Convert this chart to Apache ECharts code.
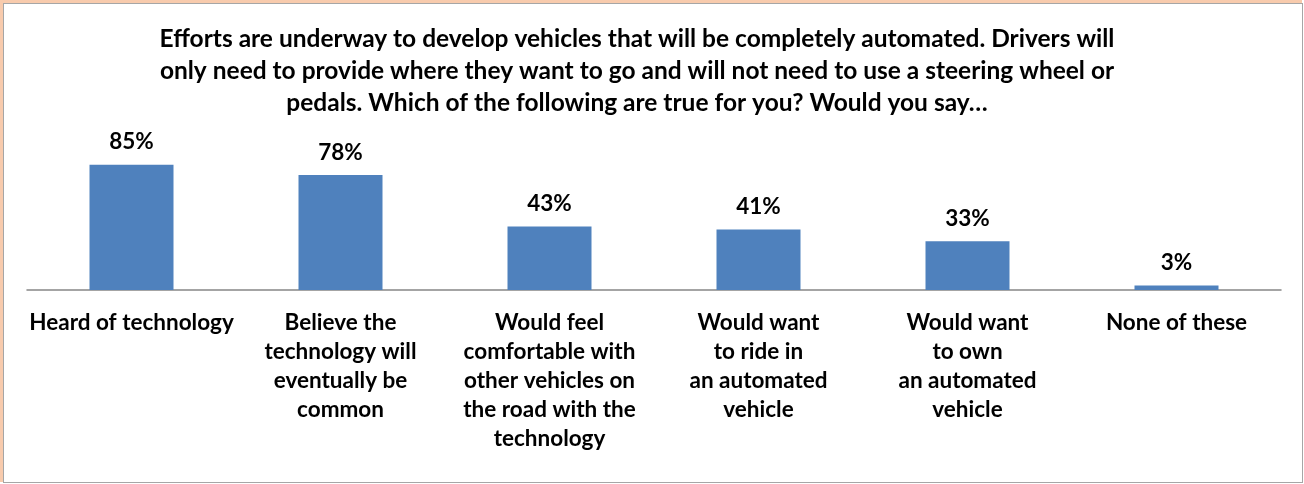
<!DOCTYPE html>
<html><head><meta charset="utf-8">
<script src="https://cdn.jsdelivr.net/npm/echarts@6/dist/echarts.min.js"></script>
<style>
html,body{margin:0;padding:0;background:#fff;}
#frame{position:absolute;left:0;top:0;width:1302px;height:482px;background:#F8CBAD;}
#chart{position:absolute;left:3px;top:3px;width:1298px;height:478px;border:1px solid #A6A6A6;background:#fff;}
</style></head>
<body>
<div id="frame"></div>
<div id="chart"></div>
<script>
const titleLines = [
  "Efforts are underway to develop vehicles that will be completely automated. Drivers will",
  "only need to provide where they want to go and will not need to use a steering wheel or",
  "pedals. Which of the following are true for you? Would you say\u2026"
];
const categories = [
  "Heard of technology",
  "Believe the\ntechnology will\neventually be\ncommon",
  "Would feel\ncomfortable with\nother vehicles on\nthe road with the\ntechnology",
  "Would want\nto ride in\nan automated\nvehicle",
  "Would want\nto own\nan automated\nvehicle",
  "None of these"
];
const values = [85, 78, 43, 41, 33, 3];

const FONT = 'Lato';
const chart = echarts.init(document.getElementById('chart'));
chart.setOption({
  backgroundColor: '#fff',
  animation: false,
  title: {
    text: titleLines.join('\n'),
    left: 628, top: 14, textAlign: 'center',
    textStyle: {fontFamily: FONT, fontWeight: 'bold', fontSize: 24.5, lineHeight: 32, color: '#000'}
  },
  grid: {left: 23, right: 21, top: 138.5, bottom: 192},
  xAxis: {
    type: 'category', data: categories,
    axisLine: {lineStyle: {color: '#868686', width: 1.5}},
    axisTick: {show: false},
    axisLabel: {interval: 0, margin: 18, fontFamily: FONT, fontWeight: 'bold', fontSize: 22.5, lineHeight: 29, color: '#000'}
  },
  yAxis: {type: 'value', min: 0, max: 100, show: false, splitLine: {show: false}},
  series: [{
    type: 'bar', data: values, barWidth: 84,
    itemStyle: {color: '#4F81BD'},
    label: {show: true, position: 'top', distance: 11, formatter: '{c}%',
      fontFamily: FONT, fontWeight: 'bold', fontSize: 22.5, color: '#000'}
  }]
});
</script>
</body></html>
